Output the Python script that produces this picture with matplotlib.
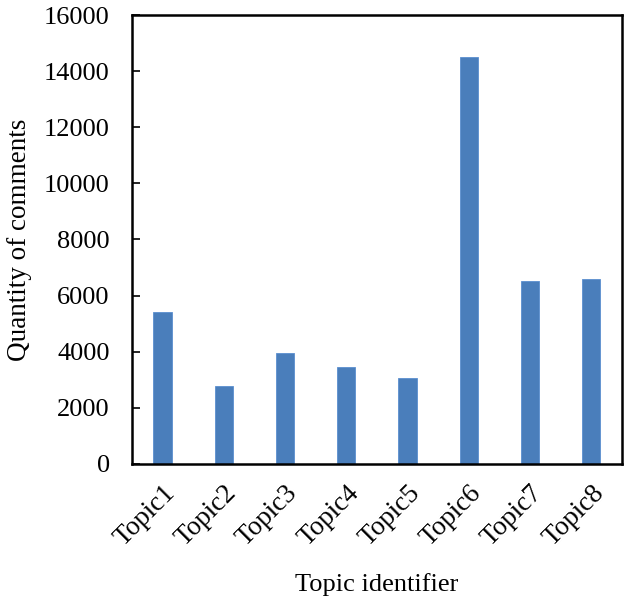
import matplotlib
matplotlib.use("Agg")
import matplotlib.pyplot as plt
from matplotlib.transforms import ScaledTranslation

topics = ["Topic1", "Topic2", "Topic3", "Topic4", "Topic5", "Topic6", "Topic7", "Topic8"]
comments = [5420, 2790, 3970, 3440, 3060, 14500, 6530, 6600]
y_ticks = [0, 2000, 4000, 6000, 8000, 10000, 12000, 14000, 16000]

plt.rcParams['font.family'] = ['Liberation Serif', 'DejaVu Serif']

fig = plt.figure(figsize=(6.3, 6.01), dpi=100)
ax = fig.add_axes([0.2095, 0.228, 0.7775, 0.747])

x = range(len(topics))
ax.bar(x, comments, width=0.3, color='#4a7ebb', edgecolor='#5b8fd0', linewidth=0.6)

ax.set_xlim(-0.5, len(topics) - 0.5)
ax.set_ylim(0, 16000)
ax.set_yticks(y_ticks)
ax.set_yticklabels([str(v) for v in y_ticks], fontsize=19)
ax.set_xticks(list(x))
ax.set_xticklabels(topics, rotation=45, ha='right', rotation_mode='anchor', fontsize=19.5)
# nudge rotated labels a little to the right, like the original
shift = ScaledTranslation(8 / 100, 0, fig.dpi_scale_trans)
for lbl in ax.get_xticklabels():
    lbl.set_transform(lbl.get_transform() + shift)

ax.tick_params(axis='y', direction='in', length=6, width=1.2, pad=16)
ax.tick_params(axis='x', length=0, pad=12)
for s in ax.spines.values():
    s.set_linewidth(1.8)

ax.set_ylabel('Quantity of comments', fontsize=19.5)
ax.yaxis.set_label_coords(-0.204, 0.5)
ax.set_xlabel('Topic identifier', fontsize=19)
ax.xaxis.set_label_coords(0.5, -0.243)

fig.savefig('out.png', dpi=100)
